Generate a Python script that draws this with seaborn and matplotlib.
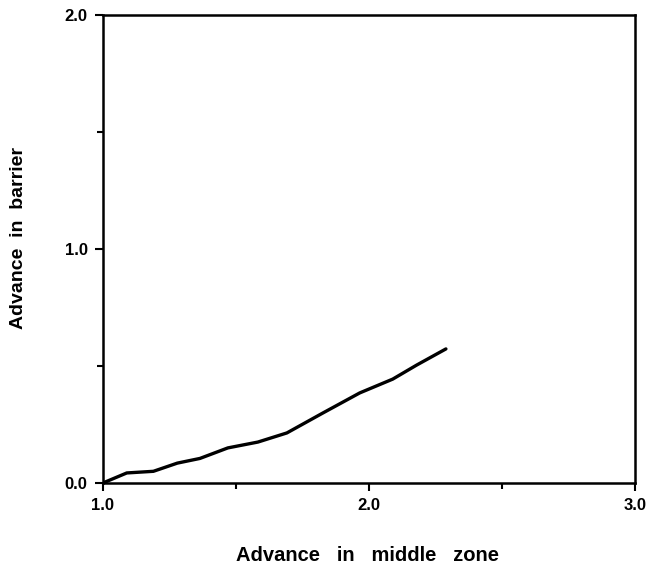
import matplotlib
matplotlib.use("Agg")
import matplotlib.pyplot as plt
import seaborn as sns
import pandas as pd
from matplotlib.ticker import MultipleLocator

middle_zone = [1.0, 1.09, 1.19, 1.28, 1.365, 1.47, 1.583, 1.692, 1.827, 1.966, 2.09, 2.18, 2.29]
barrier = [0.0, 0.043, 0.05, 0.085, 0.105, 0.15, 0.175, 0.214, 0.299, 0.385, 0.444, 0.504, 0.573]
x_ticks = [1.0, 2.0, 3.0]
y_ticks = [0.0, 1.0, 2.0]

sns.set_theme(style="ticks")
plt.rcParams['font.family'] = ['Liberation Sans', 'DejaVu Sans']
plt.rcParams['text.color'] = 'black'
plt.rcParams['xtick.color'] = 'black'
plt.rcParams['ytick.color'] = 'black'
plt.rcParams['axes.labelcolor'] = 'black'

df = pd.DataFrame({"x": middle_zone, "y": barrier})
fig = plt.figure(figsize=(6.51, 5.64), dpi=100)
ax = fig.add_axes([0.158, 0.1436, 0.817, 0.8298])
sns.lineplot(data=df, x="x", y="y", ax=ax, color="black", linewidth=2.4, sort=False)

ax.set_xlim(1.0, 3.0)
ax.set_ylim(0.0, 2.0)
ax.set_xticks(x_ticks)
ax.set_yticks(y_ticks)
ax.set_xticklabels([f"{v:.1f}" for v in x_ticks], fontweight="bold", fontsize=12)
ax.set_yticklabels([f"{v:.1f}" for v in y_ticks], fontweight="bold", fontsize=12)
ax.xaxis.set_minor_locator(MultipleLocator(0.5))
ax.yaxis.set_minor_locator(MultipleLocator(0.5))
ax.tick_params(which="major", direction="out", length=6, width=1.5, color="black", pad=5)
ax.tick_params(which="minor", direction="out", length=4, width=1.5, color="black")
for s in ax.spines.values():
    s.set_visible(True)
    s.set_linewidth(1.8)
    s.set_color("black")

ax.set_xlabel("Advance   in   middle   zone", fontweight="bold", fontsize=14.5)
ax.set_ylabel("Advance  in  barrier", fontweight="bold", fontsize=14)
ax.xaxis.set_label_coords(0.497, -0.135)
ax.yaxis.set_label_coords(-0.143, 0.523)

fig.savefig("out.png", dpi=100)
